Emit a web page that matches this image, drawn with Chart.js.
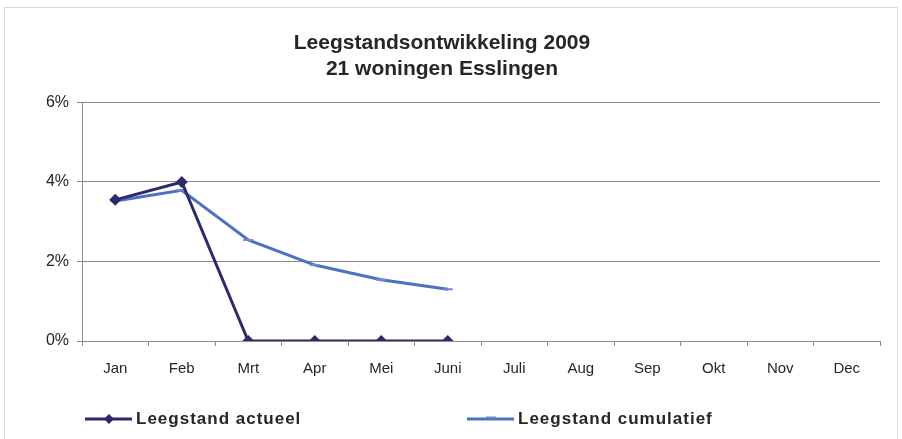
<!DOCTYPE html>
<html>
<head>
<meta charset="utf-8">
<script src="https://cdn.jsdelivr.net/npm/chart.js@4.4.0/dist/chart.umd.min.js"></script>
<style>
  html, body { margin: 0; padding: 0; background: #ffffff; }
  #wrap { width: 902px; height: 439px; position: relative; }
</style>
</head>
<body>
<div id="wrap"><canvas id="grafico" width="902" height="439"></canvas></div>
<script>
// Leegstand 2009 - 21 woningen Esslingen
var maanden = ['Jan', 'Feb', 'Mrt', 'Apr', 'Mei', 'Juni', 'Juli', 'Aug', 'Sep', 'Okt', 'Nov', 'Dec'];
var actueel = [3.55, 4.0, 0, 0, 0, 0, null, null, null, null, null, null];
var cumulatief = [3.52, 3.79, 2.54, 1.91, 1.54, 1.30, null, null, null, null, null, null];
var titel = ['Leegstandsontwikkeling 2009', '21 woningen Esslingen'];
var yTicks = [0, 2, 4, 6];

var kleurActueel = '#2c2a6c';
var kleurCumulatief = '#4a72c0';
var fontNaam = '"Liberation Sans", Arial, sans-serif';

// rand om de grafiek en legenda onderaan
var extra = {
    id: 'extra',
    beforeDraw: function (chart) {
        var ctx = chart.ctx;
        ctx.save();
        ctx.strokeStyle = '#d9d9d9';
        ctx.lineWidth = 1;
        ctx.strokeRect(4.5, 7.5, 893, 440);
        ctx.restore();
    },
    afterDraw: function (chart) {
        var ctx = chart.ctx;
        var y = 419;
        var items = [
            { x: 85, ds: chart.data.datasets[0] },
            { x: 467, ds: chart.data.datasets[1] }
        ];
        ctx.save();
        items.forEach(function (it) {
            ctx.strokeStyle = it.ds.borderColor;
            ctx.lineWidth = 3;
            ctx.beginPath();
            ctx.moveTo(it.x, y);
            ctx.lineTo(it.x + 47, y);
            ctx.stroke();
            var mx = it.x + 24;
            if (it.ds.pointStyle === 'rectRot') {
                ctx.fillStyle = it.ds.borderColor;
                ctx.beginPath();
                ctx.moveTo(mx, y - 5);
                ctx.lineTo(mx + 5, y);
                ctx.lineTo(mx, y + 5);
                ctx.lineTo(mx - 5, y);
                ctx.closePath();
                ctx.fill();
            } else {
                ctx.strokeStyle = '#6b8bd0';
                ctx.lineWidth = 2;
                ctx.beginPath();
                ctx.moveTo(mx - 5, y - 1.5);
                ctx.lineTo(mx + 5, y - 1.5);
                ctx.stroke();
            }
            ctx.fillStyle = '#262626';
            ctx.font = 'bold 17px ' + fontNaam;
            ctx.letterSpacing = '1px';
            ctx.textBaseline = 'middle';
            ctx.textAlign = 'left';
            ctx.fillText(it.ds.label, it.x + 51, y);
            ctx.letterSpacing = '0px';
        });
        ctx.restore();
    }
};

var ctx = document.getElementById('grafico').getContext('2d');
var grafico = new Chart(ctx, {
    type: 'line',
    data: {
        labels: maanden,
        datasets: [
            {
                label: 'Leegstand actueel',
                data: actueel,
                borderColor: kleurActueel,
                backgroundColor: kleurActueel,
                borderWidth: 3,
                pointStyle: 'rectRot',
                pointRadius: 6,
                pointBorderWidth: 0,
                fill: false,
                tension: 0
            },
            {
                label: 'Leegstand cumulatief',
                data: cumulatief,
                borderColor: kleurCumulatief,
                backgroundColor: kleurCumulatief,
                borderWidth: 3,
                pointStyle: 'line',
                pointRadius: 5,
                pointBorderWidth: 2,
                pointBorderColor: '#6b8bd0',
                fill: false,
                tension: 0
            }
        ]
    },
    options: {
        responsive: false,
        animation: false,
        layout: { padding: { left: 4, right: 22, top: 7, bottom: 0 } },
        plugins: {
            legend: { display: false },
            tooltip: { enabled: false },
            title: {
                display: true,
                text: titel,
                color: '#262626',
                font: { family: fontNaam, size: 21, weight: 'bold', lineHeight: 1.2 },
                padding: { top: 24, bottom: 21 }
            }
        },
        scales: {
            x: {
                offset: true,
                grid: {
                    offset: true,
                    drawOnChartArea: false,
                    drawTicks: true,
                    tickLength: 5,
                    color: '#8c8c8c'
                },
                border: { color: '#8c8c8c', width: 1 },
                ticks: {
                    color: '#262626',
                    font: { family: fontNaam, size: 15 },
                    padding: 14,
                    maxRotation: 0,
                    autoSkip: false
                },
                afterFit: function (scale) { scale.height = 98; }
            },
            y: {
                min: 0,
                max: 6,
                afterBuildTicks: function (scale) {
                    scale.ticks = yTicks.map(function (v) { return { value: v }; });
                },
                grid: {
                    color: '#8c8c8c',
                    tickLength: 5
                },
                border: { color: '#8c8c8c', width: 1 },
                ticks: {
                    color: '#262626',
                    font: { family: fontNaam, size: 16 },
                    padding: 8,
                    callback: function (v) { return v + '%'; }
                },
                afterFit: function (scale) { scale.width = 78; }
            }
        }
    },
    plugins: [extra]
});
</script>
</body>
</html>
